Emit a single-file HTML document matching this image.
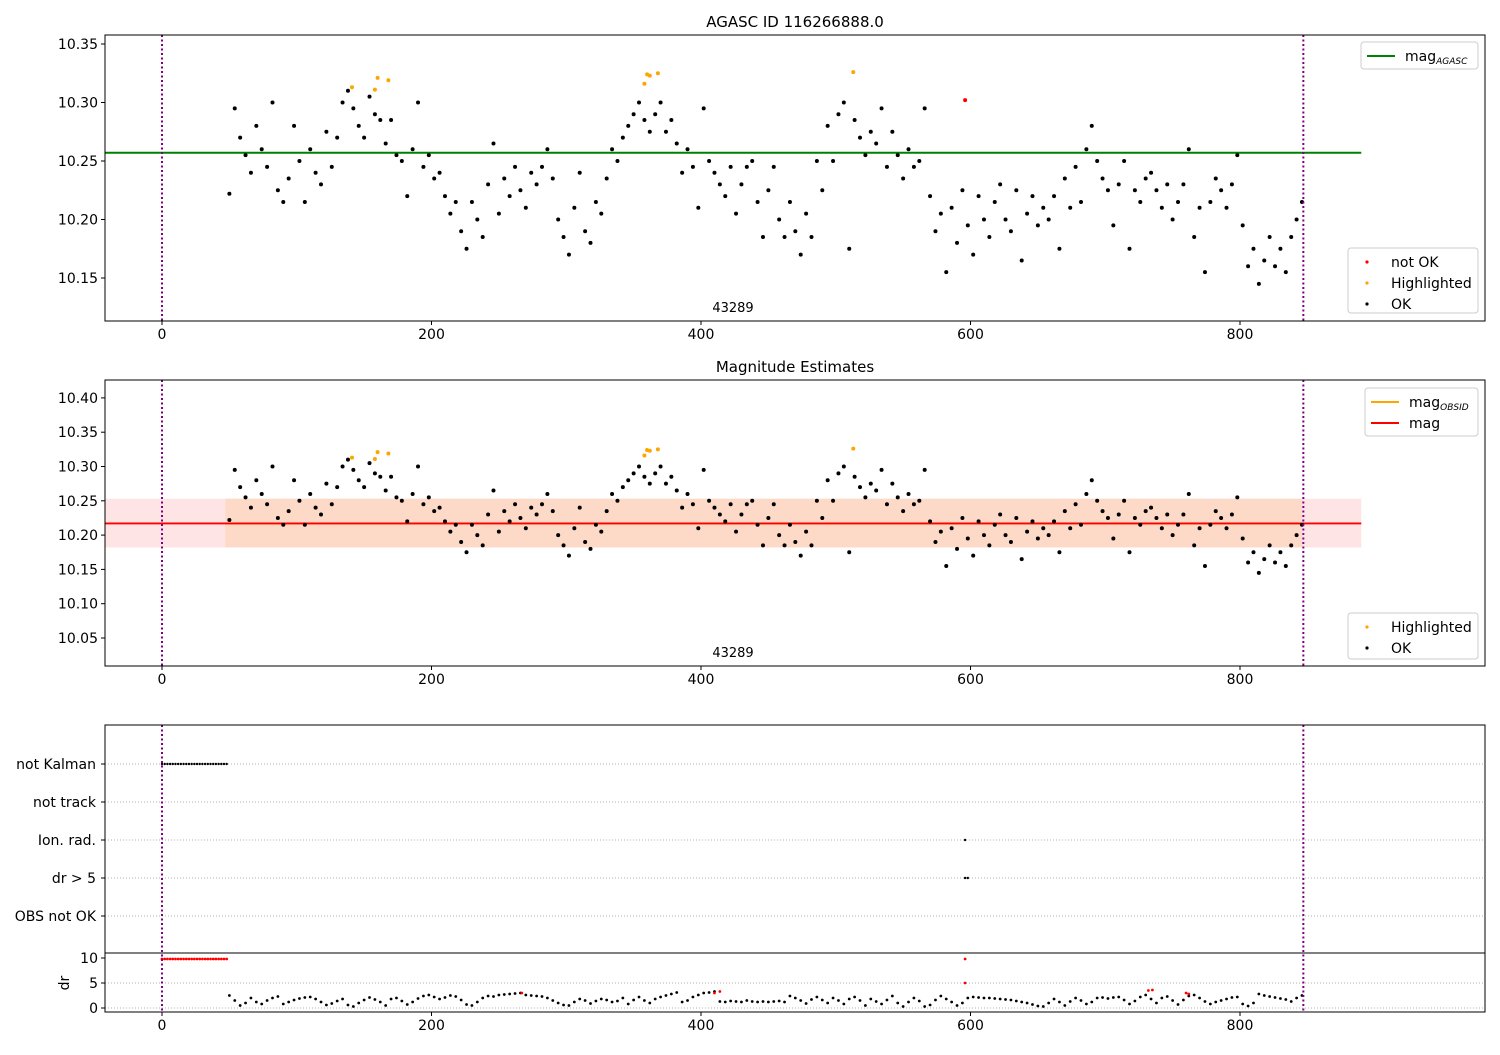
<!DOCTYPE html>
<html><head><meta charset="utf-8"><style>
body{margin:0;background:#fff;}
svg{font-family:"DejaVu Sans","Liberation Sans",sans-serif;}
</style></head><body>
<svg id="fig" width="1500" height="1050" viewBox="0 0 1500 1050"></svg>
<script>
const xTicks=[0,200,400,600,800];
const y1Ticks=[10.15,10.20,10.25,10.30,10.35];
const y2Ticks=[10.05,10.10,10.15,10.20,10.25,10.30,10.35,10.40];
const rowLabels=["not Kalman","not track","Ion. rad.","dr > 5","OBS not OK"];
const drTicks=[0,5,10];
const magStart=50, magStep=4;
const magValues=[
10.222,10.295,10.27,10.255,10.24,10.28,10.26,10.245,10.30,10.225,
10.215,10.235,10.28,10.25,10.215,10.26,10.24,10.23,10.275,10.245,
10.27,10.30,10.31,10.295,10.28,10.27,10.305,10.29,10.285,10.265,
10.285,10.255,10.25,10.22,10.26,10.30,10.245,10.255,10.235,10.24,
10.22,10.205,10.215,10.19,10.175,10.215,10.20,10.185,10.23,10.265,
10.205,10.235,10.22,10.245,10.225,10.21,10.24,10.23,10.245,10.26,
10.235,10.20,10.185,10.17,10.21,10.24,10.19,10.18,10.215,10.205,
10.235,10.26,10.25,10.27,10.28,10.29,10.30,10.285,10.275,10.29,
10.30,10.275,10.285,10.265,10.24,10.26,10.245,10.21,10.295,10.25,
10.24,10.23,10.22,10.245,10.205,10.23,10.245,10.25,10.215,10.185,
10.225,10.245,10.20,10.185,10.215,10.19,10.17,10.205,10.185,10.25,
10.225,10.28,10.25,10.29,10.30,10.175,10.285,10.27,10.255,10.275,
10.265,10.295,10.245,10.275,10.255,10.235,10.26,10.245,10.25,10.295,
10.22,10.19,10.205,10.155,10.21,10.18,10.225,10.195,10.17,10.22,
10.20,10.185,10.215,10.23,10.20,10.19,10.225,10.165,10.205,10.22,
10.195,10.21,10.20,10.22,10.175,10.235,10.21,10.245,10.215,10.26,
10.28,10.25,10.235,10.225,10.195,10.23,10.25,10.175,10.225,10.215,
10.235,10.24,10.225,10.21,10.23,10.20,10.215,10.23,10.26,10.185,
10.21,10.155,10.215,10.235,10.225,10.21,10.23,10.255,10.195,10.16,
10.175,10.145,10.165,10.185,10.16,10.175,10.155,10.185,10.20,10.215];
const hlX=[141,158,160,168,358,360,362,368,513];
const hlY=[10.313,10.311,10.321,10.319,10.316,10.324,10.323,10.325,10.326];
const notOkX=[596];
const notOkY=[10.302];
const drValues=[
2.5,1.5,0.5,1.0,2.0,1.2,0.8,1.5,2.0,2.3,
0.8,1.2,1.6,1.9,2.1,2.2,1.8,1.2,0.6,0.9,
1.4,1.8,0.6,0.3,1.0,1.6,2.1,1.7,1.2,0.5,
1.8,2.0,1.4,0.7,1.2,1.9,2.4,2.6,2.2,1.8,
2.1,2.5,2.3,1.6,0.7,0.5,1.2,2.0,2.4,2.3,
2.6,2.7,2.8,2.9,3.0,2.6,2.5,2.4,2.3,2.0,
1.5,1.0,0.6,0.5,1.2,1.8,1.5,0.9,1.4,1.8,
1.6,1.2,1.4,2.0,0.8,1.6,2.2,1.5,1.0,1.8,
2.2,2.5,2.8,3.1,1.2,1.5,2.2,2.6,3.0,3.1,
3.3,1.3,1.2,1.4,1.3,1.2,1.5,1.3,1.2,1.3,
1.2,1.3,1.4,1.2,2.4,2.0,1.5,0.9,1.7,2.2,
1.6,1.0,2.0,1.5,0.8,1.8,2.2,1.5,0.5,1.8,
1.3,0.8,1.6,2.4,1.0,0.3,1.2,2.0,1.4,0.3,
0.6,1.6,2.4,1.8,1.2,0.5,1.0,2.0,2.2,2.1,
2.0,2.0,1.9,1.8,1.7,1.6,1.4,1.2,1.0,0.7,
0.4,0.3,1.0,1.8,1.2,0.5,1.3,2.0,1.5,0.8,
1.2,2.0,2.1,1.9,2.1,2.2,1.6,0.8,1.4,2.2,
2.6,1.8,1.0,2.0,2.3,1.5,0.7,1.6,2.4,2.6,
2.0,1.3,0.8,1.2,1.5,1.8,2.1,2.2,0.8,0.4,
1.0,2.8,2.5,2.3,2.1,1.9,1.7,1.3,2.0,2.5];
const drRedX=[0,2,4,6,8,10,12,14,16,18,20,22,24,26,28,30,32,34,36,38,40,42,44,46,48,267,410,414,596,596,732,735,760,762];
const drRedY=[9.8,9.8,9.8,9.8,9.8,9.8,9.8,9.8,9.8,9.8,9.8,9.8,9.8,9.8,9.8,9.8,9.8,9.8,9.8,9.8,9.8,9.8,9.8,9.8,9.8,3.0,3.0,3.3,9.8,5.0,3.5,3.6,3.0,2.8];
const kalmanX=[0,2,4,6,8,10,12,14,16,18,20,22,24,26,28,30,32,34,36,38,40,42,44,46,48];
const magAgasc=10.257, magObs=10.217, bandLo=10.182, bandHi=10.253;
const lineEnd=890, obsStart=47, obsEnd=846, vLines=[0,847];

const NS="http://www.w3.org/2000/svg", svg=document.getElementById('fig');
function el(t,a,p){const e=document.createElementNS(NS,t);for(const k in a)e.setAttribute(k,a[k]);(p||svg).appendChild(e);return e;}
const X=v=>162+v*1.3475;
const Y1=v=>278-(v-10.15)*1170;
const Y2=v=>638-(v-10.05)*686;
const YD=v=>1008-v*5.0;
const L=105,R=1485;

function xaxis(bottom,name){
  xTicks.forEach(t=>{const x=X(t);
    let l=el('line',{x1:x,x2:x,y1:bottom,y2:bottom+4,stroke:'#000'});
    
    let s=el('text',{x:x,y:bottom+18,'font-size':14,'text-anchor':'middle'});s.textContent=t;
    });
}
function yaxis(ticks,f,name,fmt){
  ticks.forEach(t=>{const y=f(t);
    let l=el('line',{x1:L-4,x2:L,y1:y,y2:y,stroke:'#000'});
    
    let s=el('text',{x:L-7,y:y+5,'font-size':14,'text-anchor':'end'});s.textContent=fmt(t);
    });
}
function dot(x,y,c,r,name){const d=el('circle',{cx:x,cy:y,r:r||2,fill:c});
  }
function vlines(top,bottom){vLines.forEach(v=>{const l=el('line',{x1:X(v),x2:X(v),y1:top,y2:bottom,stroke:'#800080','stroke-width':2,'stroke-dasharray':'2,2.5'});
  });}
function frame(top,bottom,name){const r=el('rect',{x:L,y:top,width:R-L,height:bottom-top,fill:'none',stroke:'#000'});
  }
function txt(x,y,s,size,anchor,name){const t=el('text',{x:x,y:y,'font-size':size,'text-anchor':anchor||'start'});t.textContent=s;
  return t;}

// ---- panel 1
txt(795,27,'AGASC ID 116266888.0',15,'middle','panel1-title');
let g=el('line',{x1:L,x2:X(lineEnd),y1:Y1(magAgasc),y2:Y1(magAgasc),stroke:'#008000','stroke-width':2});

magValues.forEach((v,i)=>dot(X(magStart+i*magStep),Y1(v),'#000',2,'ok-point'));
hlX.forEach((x,i)=>dot(X(x),Y1(hlY[i]),'orange',2,'highlighted-point'));
notOkX.forEach((x,i)=>dot(X(x),Y1(notOkY[i]),'red',2,'not-ok-point'));
vlines(35,321);
txt(733,312,'43289',13,'middle','obsid-label');
frame(35,321,'panel1-axes');xaxis(321,'x-axis-1');yaxis(y1Ticks,Y1,'y-axis-1',v=>v.toFixed(2));

function legend(x,y,w,h,items,name){
  const r=el('rect',{x:x,y:y,width:w,height:h,fill:'#fff',stroke:'#ccc',rx:3});
  
  items.forEach((it,i)=>{const cy=y+14+i*21;
    if(it.line){const l=el('line',{x1:x+6,x2:x+34,y1:cy,y2:cy,stroke:it.c,'stroke-width':2});}
    else dot(x+19,cy,it.c,1.6,'legend-marker');
    const t=txt(x+(it.line?44:43),cy+5,it.t,14,'start','legend-entry');
    if(it.sub){const s=el('tspan',{'font-size':9,dy:3,'font-style':'italic'});s.textContent=it.sub;t.appendChild(s);}
  });
}
legend(1361,42,117,27,[{c:'#008000',line:1,t:'mag',sub:'AGASC'}],'legend-agasc');
legend(1348,248,130,65,[{c:'red',t:'not OK'},{c:'orange',t:'Highlighted'},{c:'#000',t:'OK'}],'legend-status-1');

// ---- panel 2
txt(795,372,'Magnitude Estimates',15,'middle','panel2-title');
let b1=el('rect',{x:L,y:Y2(bandHi),width:X(lineEnd)-L,height:Y2(bandLo)-Y2(bandHi),fill:'#ffe4e6'});

let b2=el('rect',{x:X(obsStart),y:Y2(bandHi),width:X(obsEnd)-X(obsStart),height:Y2(bandLo)-Y2(bandHi),fill:'#fddac8'});

let ol=el('line',{x1:X(obsStart),x2:X(obsEnd),y1:Y2(magObs),y2:Y2(magObs),stroke:'orange','stroke-width':2});

let rl=el('line',{x1:L,x2:X(lineEnd),y1:Y2(magObs),y2:Y2(magObs),stroke:'red','stroke-width':1.8});

magValues.forEach((v,i)=>dot(X(magStart+i*magStep),Y2(v),'#000',2,'ok-point'));
hlX.forEach((x,i)=>dot(X(x),Y2(hlY[i]),'orange',2,'highlighted-point'));
vlines(380,666);
txt(733,657,'43289',13,'middle','obsid-label');
frame(380,666,'panel2-axes');xaxis(666,'x-axis-2');yaxis(y2Ticks,Y2,'y-axis-2',v=>v.toFixed(2));
legend(1365,388,113,48,[{c:'orange',line:1,t:'mag',sub:'OBSID'},{c:'red',line:1,t:'mag'}],'legend-mag');
legend(1348,613,130,46,[{c:'orange',t:'Highlighted'},{c:'#000',t:'OK'}],'legend-status-2');

// ---- panel 3
const rowY=i=>764+i*38;
rowLabels.forEach((s,i)=>{const y=rowY(i);
  const gl=el('line',{x1:L,x2:R,y1:y,y2:y,stroke:'#b0b0b0','stroke-dasharray':'1,2'});
  
  const tk=el('line',{x1:L-4,x2:L,y1:y,y2:y,stroke:'#000'});
  txt(L-9,y+5,s,14,'end','row-label');});
kalmanX.forEach(x=>dot(X(x),rowY(0),'#000',1.2,'not-kalman-point'));
dot(X(596),rowY(2),'#000',1.2,'ion-rad-point');
dot(X(596),rowY(3),'#000',1.2,'dr-flag-point');dot(X(598),rowY(3),'#000',1.2,'dr-flag-point');
[5,0].forEach(v=>{const gl=el('line',{x1:L,x2:R,y1:YD(v),y2:YD(v),stroke:'#b0b0b0','stroke-dasharray':'1,2'});
  });
let sep=el('line',{x1:L,x2:R,y1:953,y2:953,stroke:'#000'});
drValues.forEach((v,i)=>dot(X(magStart+i*magStep),YD(v),'#000',1.4,'dr-point'));
drRedX.forEach((x,i)=>dot(X(x),YD(drRedY[i]),'red',1.4,'dr-bad-point'));
vlines(725,1012);
frame(725,1012,'panel3-axes');xaxis(1012,'x-axis-3');
yaxis(drTicks,YD,'dr-axis',v=>v);
txt(0,0,'dr',14,'middle','dr-axis-title').setAttribute('transform','translate(69,983) rotate(-90)');
</script>
</body></html>
